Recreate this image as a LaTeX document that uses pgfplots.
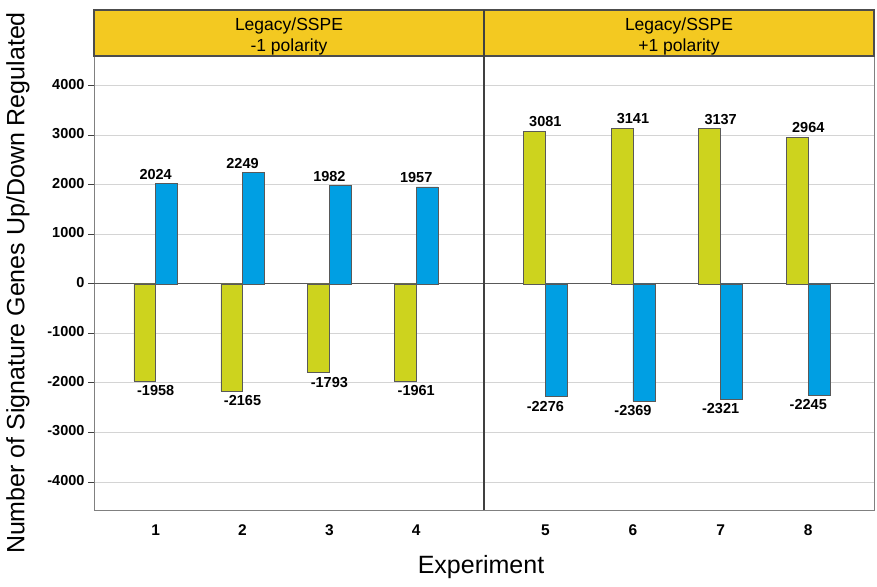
\documentclass[border=0pt]{standalone}
\usepackage{pgfplots}
\pgfplotsset{compat=1.18}
\usepackage{fontspec}
\setmainfont{Liberation Sans}
\definecolor{baryel}{HTML}{CDD31E}
\definecolor{barblu}{HTML}{009FE3}
\definecolor{hdr}{HTML}{F3C921}
\definecolor{gridc}{HTML}{D4D4D4}
\begin{document}
\begin{tikzpicture}[x=1pt,y=1pt]
\useasboundingbox (0,0) rectangle (877,586);
\pgfplotsset{
  panel/.style={
    scale only axis, width=390pt, height=454pt,
    ymin=-4565, ymax=4600,
    ytick={-4000,-3000,...,4000},
    ymajorgrids, grid style={draw=gridc, line width=0.9pt},
    axis line style={draw=gray, line width=1pt},
    tick align=outside, major tick length=6pt,
    xtick style={draw=none},
    typeset ticklabels with strut,
    xticklabel style={font=\fontsize{15.5}{18}\selectfont\bfseries, yshift=-3pt},
    /pgf/number format/1000 sep={},
    /pgf/number format/assume math mode=true,
    bar width=0.25,
    nodes near coords,
    nodes near coords align=vertical,
    every node near coord/.append style={font=\fontsize{14.5}{17}\selectfont\bfseries, inner sep=4pt},
    clip=false,
  },
  yel/.style={ybar, bar shift=-0.125, fill=baryel, draw=black!65, line width=0.6pt},
  blu/.style={ybar, bar shift=0.125, fill=barblu, draw=black!65, line width=0.6pt},
}
% left panel
\begin{axis}[panel, at={(94pt,76pt)}, anchor=south west,
  xmin=0.29, xmax=4.78, xtick={1,2,3,4},
  ytick pos=left,
  ytick style={draw=black!75, line width=1pt},
  yticklabel style={font=\fontsize{14.5}{17}\selectfont\bfseries},
  ylabel={Number of Signature Genes Up/Down Regulated},
  every axis y label/.style={at={(axis description cs:-0.195,0.5)}, rotate=90, anchor=center, font=\fontsize{25}{29}\selectfont},
]
\draw[gray!70!black, line width=1.1pt] (axis cs:0.29,0) -- (axis cs:4.78,0);
\addplot[yel] coordinates {(1,-1958) (2,-2165) (3,-1793) (4,-1961)};
\addplot[blu] coordinates {(1,2024) (2,2249) (3,1982) (4,1957)};
\end{axis}
% right panel
\begin{axis}[panel, at={(484pt,76pt)}, anchor=south west,
  xmin=4.3, xmax=8.75, xtick={5,6,7,8},
  yticklabels={}, ytick style={draw=none},
]
\draw[gray!70!black, line width=1.1pt] (axis cs:4.3,0) -- (axis cs:8.75,0);
\addplot[yel] coordinates {(5,3081) (6,3141) (7,3137) (8,2964)};
\addplot[blu] coordinates {(5,-2276) (6,-2369) (7,-2321) (8,-2245)};
\end{axis}
% header strip and panel divider
\draw[fill=hdr, draw=black!70, line width=1.1pt] (94,530) rectangle (874,576);
\draw[black!75, line width=1.3pt] (484,76) -- (484,576);
\node[align=center, font=\fontsize{17.5}{21}\selectfont] at (289,550) {Legacy/SSPE\\-1 polarity};
\node[align=center, font=\fontsize{17.5}{21}\selectfont] at (679,550) {Legacy/SSPE\\+1 polarity};
\node[font=\fontsize{25}{29}\selectfont] at (481,19) {Experiment};
\end{tikzpicture}
\end{document}
